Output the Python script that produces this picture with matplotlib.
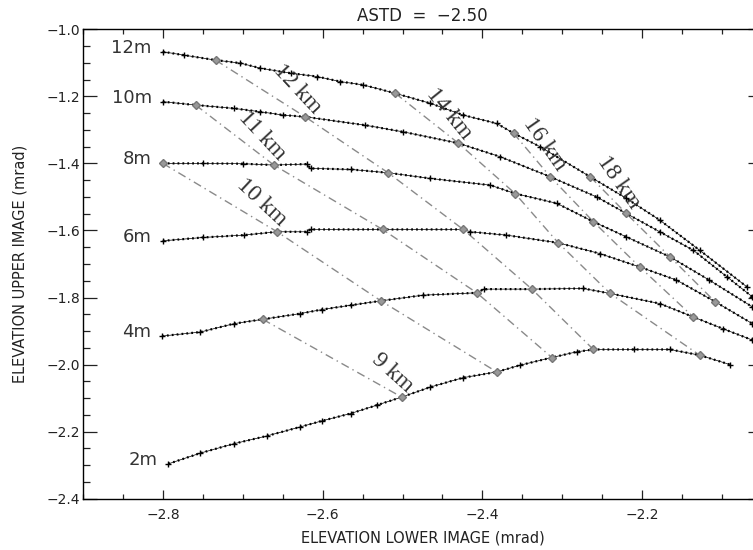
import matplotlib
matplotlib.use("Agg")
import matplotlib.pyplot as plt
from matplotlib.ticker import MultipleLocator

# curves of constant height (lower image elevation, upper image elevation), mrad
h2_x = [-2.793, -2.753, -2.711, -2.670, -2.628, -2.601, -2.565, -2.532, -2.501, -2.465,
        -2.424, -2.382, -2.353, -2.313, -2.282, -2.261, -2.210, -2.165, -2.128, -2.090]
h2_y = [-2.296, -2.264, -2.236, -2.213, -2.186, -2.168, -2.146, -2.121, -2.097, -2.067,
        -2.039, -2.022, -2.002, -1.979, -1.962, -1.955, -1.955, -1.955, -1.972, -2.000]

h4_x = [-2.801, -2.753, -2.711, -2.675, -2.628, -2.601, -2.565, -2.527, -2.474, -2.407,
        -2.398, -2.338, -2.274, -2.240, -2.178, -2.136, -2.099, -2.062]
h4_y = [-1.915, -1.903, -1.878, -1.865, -1.848, -1.836, -1.823, -1.810, -1.793, -1.786,
        -1.775, -1.775, -1.773, -1.788, -1.818, -1.858, -1.893, -1.927]

h6_x = [-2.800, -2.750, -2.699, -2.657, -2.620, -2.615, -2.525, -2.424, -2.415, -2.370,
        -2.305, -2.253, -2.203, -2.157, -2.109, -2.062]
h6_y = [-1.631, -1.621, -1.614, -1.604, -1.604, -1.597, -1.597, -1.597, -1.604, -1.614,
        -1.637, -1.669, -1.709, -1.748, -1.812, -1.878]

h8_x = [-2.800, -2.750, -2.700, -2.661, -2.620, -2.615, -2.565, -2.518, -2.465, -2.390,
        -2.359, -2.307, -2.261, -2.220, -2.165, -2.116, -2.062]
h8_y = [-1.400, -1.400, -1.401, -1.405, -1.402, -1.415, -1.418, -1.428, -1.445, -1.465,
        -1.490, -1.519, -1.574, -1.619, -1.679, -1.748, -1.828]

h10_x = [-2.800, -2.759, -2.711, -2.678, -2.649, -2.622, -2.547, -2.499, -2.430, -2.378,
         -2.315, -2.257, -2.220, -2.178, -2.136, -2.094, -2.062]
h10_y = [-1.216, -1.226, -1.236, -1.246, -1.256, -1.261, -1.286, -1.306, -1.340, -1.380,
         -1.440, -1.500, -1.549, -1.604, -1.659, -1.738, -1.798]

h12_x = [-2.800, -2.774, -2.734, -2.703, -2.678, -2.640, -2.607, -2.578, -2.549, -2.509,
         -2.465, -2.424, -2.382, -2.361, -2.328, -2.265, -2.220, -2.178, -2.128, -2.069]
h12_y = [-1.067, -1.077, -1.092, -1.101, -1.116, -1.131, -1.141, -1.156, -1.166, -1.191,
         -1.221, -1.256, -1.281, -1.310, -1.350, -1.440, -1.504, -1.569, -1.659, -1.768]

heights = ["2m", "4m", "6m", "8m", "10m", "12m"]
curves_x = [h2_x, h4_x, h6_x, h8_x, h10_x, h12_x]
curves_y = [h2_y, h4_y, h6_y, h8_y, h10_y, h12_y]

# points of equal distance, from the highest curve down to 2m
km9_x = [-2.675, -2.501]
km9_y = [-1.865, -2.097]
km10_x = [-2.800, -2.657, -2.527, -2.382]
km10_y = [-1.400, -1.604, -1.810, -2.022]
km11_x = [-2.759, -2.661, -2.525, -2.407, -2.313]
km11_y = [-1.226, -1.405, -1.597, -1.786, -1.979]
km12_x = [-2.734, -2.622, -2.518, -2.424, -2.338, -2.261]
km12_y = [-1.092, -1.261, -1.428, -1.597, -1.775, -1.955]
km14_x = [-2.509, -2.430, -2.359, -2.305, -2.240, -2.128]
km14_y = [-1.191, -1.340, -1.490, -1.637, -1.788, -1.972]
km16_x = [-2.361, -2.315, -2.261, -2.203, -2.136]
km16_y = [-1.310, -1.440, -1.574, -1.709, -1.858]
km18_x = [-2.265, -2.220, -2.165, -2.109]
km18_y = [-1.440, -1.549, -1.679, -1.812]

dist_names = ["9 km", "10 km", "11 km", "12 km", "14 km", "16 km", "18 km"]
dist_x = [km9_x, km10_x, km11_x, km12_x, km14_x, km16_x, km18_x]
dist_y = [km9_y, km10_y, km11_y, km12_y, km14_y, km16_y, km18_y]

# label placement for the distance lines
dist_lab_x = [-2.513, -2.676, -2.676, -2.632, -2.442, -2.322, -2.230]
dist_lab_y = [-2.024, -1.515, -1.318, -1.178, -1.251, -1.342, -1.457]
dist_lab_rot = [-42, -43, -47, -47, -51, -55, -55]

fig = plt.figure(figsize=(7.53, 5.5), dpi=100)
ax = fig.add_axes([0.1102, 0.0933, 0.9017, 0.8535])

for xs, ys in zip(dist_x, dist_y):
    ax.plot(xs, ys, color="#8a8a8a", lw=1.0, ls=(0, (6, 3, 1, 3)), zorder=2)
    ax.plot(xs, ys, ls="none", marker="D", ms=4, color="#999999",
            mec="#777777", zorder=4)

for name, xs, ys in zip(heights, curves_x, curves_y):
    ax.plot(xs, ys, color="black", lw=1.6, ls=(0, (0.8, 1.4)), zorder=3)
    ax.plot(xs, ys, color="black", lw=0.5, marker="+", ms=4, mew=1.0, zorder=3)
    ax.text(xs[0] - 0.014, ys[0] + 0.012, name, ha="right", va="center",
            fontsize=13, color="#333333")

for name, lx, ly, rot in zip(dist_names, dist_lab_x, dist_lab_y, dist_lab_rot):
    ax.text(lx, ly, name, rotation=rot, rotation_mode="anchor", ha="center",
            va="center", fontsize=17, family="Liberation Serif", color="#333333",
            zorder=5)

ax.set_xlim(-2.9, -2.05)
ax.set_ylim(-2.4, -1.0)
ax.xaxis.set_major_locator(MultipleLocator(0.2))
ax.xaxis.set_minor_locator(MultipleLocator(0.05))
ax.yaxis.set_major_locator(MultipleLocator(0.2))
ax.yaxis.set_minor_locator(MultipleLocator(0.05))
ax.tick_params(which="both", direction="in", top=True, right=True, width=0.9,
               labelsize=10, colors="#222222")
ax.tick_params(axis="x", which="major", length=6.8, pad=6.5)
ax.tick_params(axis="x", which="minor", length=3.4)
ax.tick_params(axis="y", which="major", length=9.8, pad=2)
ax.tick_params(axis="y", which="minor", length=4.9)
for sp in ax.spines.values():
    sp.set_linewidth(1.0)

ax.set_xlabel("ELEVATION LOWER IMAGE (mrad)", fontsize=10.5, labelpad=6.5, color="#222222")
ax.set_ylabel("ELEVATION UPPER IMAGE (mrad)", fontsize=10.5, labelpad=13.5, color="#222222")
ax.set_title("ASTD  =  \u22122.50", fontsize=12, pad=6, color="#222222")

plt.savefig("out.png", dpi=100)
